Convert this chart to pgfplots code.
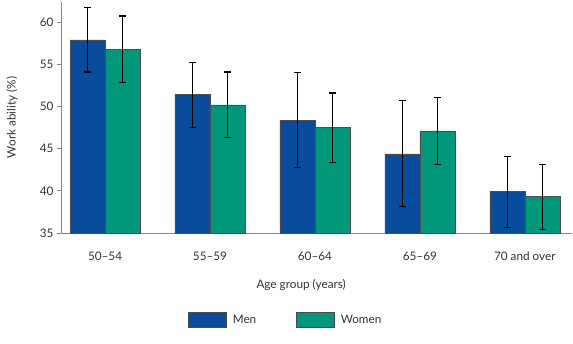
\documentclass[border=0pt]{standalone}
\usepackage{pgfplots}
\pgfplotsset{compat=1.18}
\usepackage{fontspec}
\setmainfont{Lato}
\definecolor{menblue}{HTML}{0A4C9C}
\definecolor{womengreen}{HTML}{00977A}
\definecolor{axgray}{HTML}{888888}
\begin{document}
\begin{tikzpicture}
\begin{axis}[
  scale only axis, width=511bp, height=231bp,
  ybar=0pt, bar width=35bp,
  xmin=-0.42, xmax=4.45, ymin=35, ymax=62.4,
  axis x line*=bottom, axis y line*=left,
  axis line style={axgray, line width=0.8pt},
  xtick=data, xticklabels={50--54,55--59,60--64,65--69,70 and over},
  xtick style={draw=none},
  ytick={35,40,...,60},
  ytick style={axgray, line width=0.8pt},
  tick align=outside, major tick length=4bp,
  /pgf/number format/assume math mode=true,
  tick label style={font=\fontsize{11.8}{14}\selectfont, text=black!80},
  xticklabel style={yshift=-11bp},
  ylabel={Work ability (\%)},
  ylabel style={font=\fontsize{11.8}{14}\selectfont, text=black!80, at={(-49bp,0.5)}, anchor=center},
  xlabel={Age group (years)},
  xlabel style={font=\fontsize{11.8}{14}\selectfont, text=black!80, at={(0.47,-52bp)}, anchor=center},
  legend style={at={(0.44,-87bp)}, anchor=center, draw=none, legend columns=2,
    font=\fontsize{11.8}{14}\selectfont, text=black!80,
    /tikz/every even column/.append style={column sep=38bp}},
  legend image code/.code={\draw[#1] (0bp,-7.5bp) rectangle (38bp,7.5bp); \path (42bp,0bp);},
  error bars/error bar style={black, line width=1.2pt},
  error bars/error mark options={rotate=90, mark size=3.5bp, line width=1.2pt, black},
]
\addplot[fill=menblue, draw=black!70, line width=0.5pt,
  error bars/.cd, y dir=both, y explicit]
 coordinates {(0,57.9) +- (0,3.8) (1,51.4) +- (0,3.85) (2,48.4) +- (0,5.6) (3,44.4) +- (0,6.3) (4,39.9) +- (0,4.2)};
\addplot[fill=womengreen, draw=black!70, line width=0.5pt,
  error bars/.cd, y dir=both, y explicit]
 coordinates {(0,56.8) +- (0,3.95) (1,50.2) +- (0,3.9) (2,47.5) +- (0,4.1) (3,47.1) +- (0,4.0) (4,39.3) +- (0,3.85)};
\legend{Men,Women}
\end{axis}
\path (current axis.south west) ++(-61bp,-111bp) rectangle ++(573bp,344bp);
\end{tikzpicture}
\end{document}
